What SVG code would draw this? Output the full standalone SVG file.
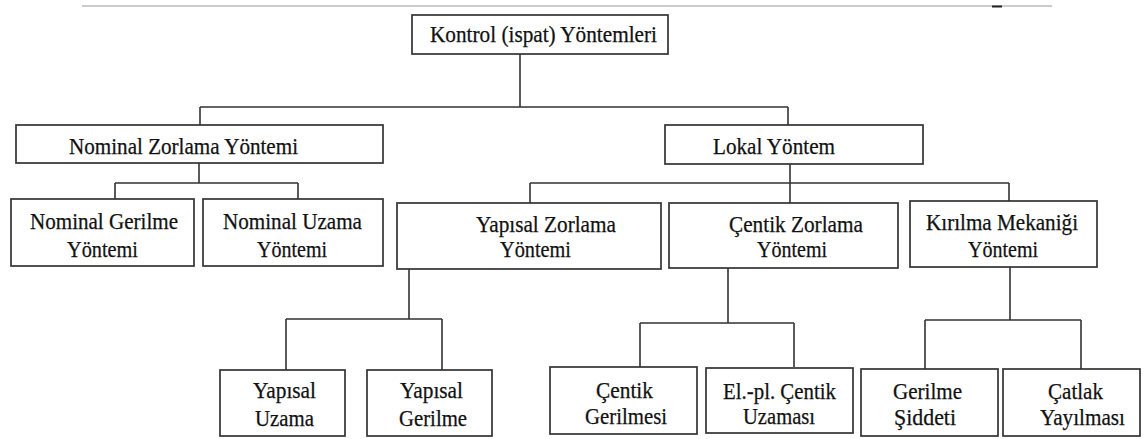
<svg xmlns="http://www.w3.org/2000/svg" width="1148" height="439" viewBox="0 0 1148 439">
<style>
.box{fill:#fff;stroke:#333;stroke-width:1.7}
.ln{fill:none;stroke:#333;stroke-width:1.6}
.t{font-family:"Liberation Serif","Times New Roman",serif;font-size:23px;fill:#111;stroke:#111;stroke-width:0.25}
</style>
<rect width="1148" height="439" fill="#fff"/>
<line x1="82" y1="6" x2="1052" y2="6" stroke="#9a9a9a" stroke-width="1.2"/>
<line x1="992" y1="6.5" x2="1002" y2="6.5" stroke="#222" stroke-width="2"/>
<g id="connectors">
<path class="ln" d="M520,54 V107 M200,107 H788 M200,107 V125 M788,107 V125"/>
<path class="ln" d="M199,163 V183 M115,183 H298 M115,183 V199 M298,183 V199"/>
<path class="ln" d="M790,164 V183 M530,183 H1009 M530,183 V203 M790,183 V203 M1009,183 V201"/>
<path class="ln" d="M409,269 V319 M286,319 H442 M286,319 V370 M442,319 V370"/>
<path class="ln" d="M728,268 V323 M640,323 H794 M640,323 V367 M794,323 V367"/>
<path class="ln" d="M1010,267 V320 M925,320 H1081 M925,320 V369 M1081,320 V369"/>
</g>
<g class="t" font-family="Liberation Serif, serif">
<g id="root"><rect class="box" x="412" y="15" width="256" height="39"/>
<text x="430" y="42" textLength="227" lengthAdjust="spacingAndGlyphs">Kontrol (ispat) Yöntemleri</text></g>
<g id="nominal"><rect class="box" x="16" y="125" width="367" height="38"/>
<text x="69" y="154" textLength="229" lengthAdjust="spacingAndGlyphs">Nominal Zorlama Yöntemi</text></g>
<g id="lokal"><rect class="box" x="665" y="125" width="258" height="39"/>
<text x="713" y="154" textLength="122" lengthAdjust="spacingAndGlyphs">Lokal Yöntem</text></g>
<g id="nominal-gerilme"><rect class="box" x="11" y="199" width="183" height="67"/>
<text x="30" y="229" textLength="148" lengthAdjust="spacingAndGlyphs">Nominal Gerilme</text>
<text x="67" y="257" textLength="71" lengthAdjust="spacingAndGlyphs">Yöntemi</text></g>
<g id="nominal-uzama"><rect class="box" x="203" y="199" width="180" height="67"/>
<text x="223" y="229" textLength="139" lengthAdjust="spacingAndGlyphs">Nominal Uzama</text>
<text x="257" y="257" textLength="70" lengthAdjust="spacingAndGlyphs">Yöntemi</text></g>
<g id="yapisal-zorlama"><rect class="box" x="397" y="203" width="264" height="66"/>
<text x="476" y="232" textLength="140" lengthAdjust="spacingAndGlyphs">Yapısal Zorlama</text>
<text x="500" y="257" textLength="71" lengthAdjust="spacingAndGlyphs">Yöntemi</text></g>
<g id="centik-zorlama"><rect class="box" x="669" y="203" width="229" height="65"/>
<text x="729" y="232" textLength="134" lengthAdjust="spacingAndGlyphs">Çentik Zorlama</text>
<text x="757" y="257" textLength="70" lengthAdjust="spacingAndGlyphs">Yöntemi</text></g>
<g id="kirilma"><rect class="box" x="910" y="201" width="187" height="66"/>
<text x="926" y="230" textLength="152" lengthAdjust="spacingAndGlyphs">Kırılma Mekaniği</text>
<text x="968" y="257" textLength="70" lengthAdjust="spacingAndGlyphs">Yöntemi</text></g>
<g id="yapisal-uzama"><rect class="box" x="220" y="370" width="125" height="66"/>
<text x="253" y="398" textLength="63" lengthAdjust="spacingAndGlyphs">Yapısal</text>
<text x="255" y="426" textLength="59" lengthAdjust="spacingAndGlyphs">Uzama</text></g>
<g id="yapisal-gerilme"><rect class="box" x="367" y="370" width="125" height="66"/>
<text x="400" y="398" textLength="63" lengthAdjust="spacingAndGlyphs">Yapısal</text>
<text x="399" y="426" textLength="68" lengthAdjust="spacingAndGlyphs">Gerilme</text></g>
<g id="centik-gerilmesi"><rect class="box" x="550" y="367" width="147" height="67"/>
<text x="596" y="398" textLength="57" lengthAdjust="spacingAndGlyphs">Çentik</text>
<text x="585" y="424" textLength="82" lengthAdjust="spacingAndGlyphs">Gerilmesi</text></g>
<g id="elpl-centik"><rect class="box" x="706" y="368" width="147" height="65"/>
<text x="723" y="399" textLength="113" lengthAdjust="spacingAndGlyphs">El.-pl. Çentik</text>
<text x="743" y="424" textLength="72" lengthAdjust="spacingAndGlyphs">Uzaması</text></g>
<g id="gerilme-siddeti"><rect class="box" x="861" y="369" width="137" height="67"/>
<text x="893" y="399" textLength="69" lengthAdjust="spacingAndGlyphs">Gerilme</text>
<text x="894" y="425" textLength="62" lengthAdjust="spacingAndGlyphs">Şiddeti</text></g>
<g id="catlak"><rect class="box" x="1003" y="369" width="137" height="67"/>
<text x="1048" y="399" textLength="55" lengthAdjust="spacingAndGlyphs">Çatlak</text>
<text x="1040" y="425" textLength="85" lengthAdjust="spacingAndGlyphs">Yayılması</text></g>
</g>
</svg>
